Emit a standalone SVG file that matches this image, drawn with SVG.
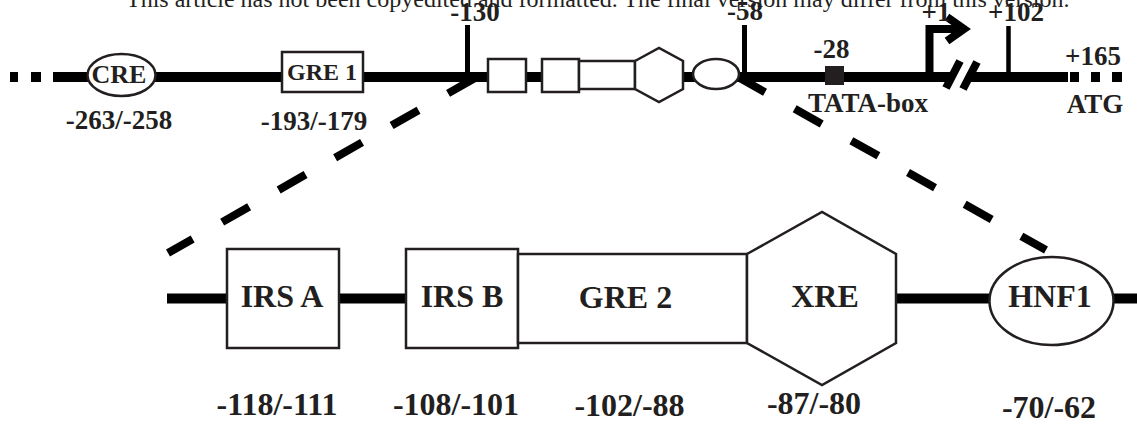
<svg xmlns="http://www.w3.org/2000/svg" width="1137" height="427" viewBox="0 0 1137 427">
<style>
text{font-family:"Liberation Serif","Times New Roman",serif;fill:#231f20;text-anchor:middle}
.b{font-weight:bold}
.t{font-size:27px}
.L{font-size:32px}
.box{fill:#fff;stroke:#231f20;stroke-width:2.5}
.tick{stroke:#000;fill:none}
.dash{stroke:#000;stroke-width:8;stroke-dasharray:31 34;fill:none}
</style>
<rect width="1137" height="427" fill="#fff"/>
<text x="126" y="7" style="font-size:24px;text-anchor:start">This article has not been copyedited and formatted. The final version may differ from this version.</text>

<g id="connectors">
  <!-- top DNA line -->
  <rect x="10" y="72" width="8" height="10" fill="#000"/>
  <rect x="31" y="72" width="10" height="10" fill="#000"/>
  <line x1="53" y1="77" x2="1068" y2="77" stroke="#000" stroke-width="10"/>
  <rect x="1070" y="72" width="9" height="10" fill="#000"/>
  <rect x="1091" y="72" width="9" height="10" fill="#000"/>
  <rect x="1112" y="72" width="10" height="10" fill="#000"/>
  <!-- break mark -->
  <line x1="954.5" y1="88.5" x2="968" y2="61.5" stroke="#fff" stroke-width="9"/>
  <line x1="946" y1="88" x2="960" y2="61" stroke="#000" stroke-width="8"/>
  <line x1="963" y1="89" x2="977" y2="62" stroke="#000" stroke-width="8"/>
  <!-- ticks -->
  <line class="tick" x1="467.5" y1="25" x2="467.5" y2="74" stroke-width="5"/>
  <line class="tick" x1="744.5" y1="25" x2="744.5" y2="74" stroke-width="5"/>
  <line class="tick" x1="1008.5" y1="26" x2="1008.5" y2="74" stroke-width="4.5"/>
  <!-- transcription start arrow -->
  <path d="M929.5,74 V29 H960" fill="none" stroke="#000" stroke-width="8"/>
  <path d="M947,17 L964,29 L947,41" fill="none" stroke="#000" stroke-width="8"/>
  <!-- zoom dashed lines -->
  <line class="dash" x1="475" y1="78" x2="168" y2="253"/>
  <line class="dash" x1="738" y1="77" x2="1046" y2="250"/>
  <!-- bottom line -->
  <line x1="167" y1="298.5" x2="1137" y2="298.5" stroke="#000" stroke-width="10"/>
</g>

<g id="top-CRE">
  <ellipse class="box" cx="121.5" cy="75" rx="34" ry="21"/>
  <text class="b" x="119" y="83" style="font-size:26px">CRE</text>
  <text class="b t" x="119" y="129">-263/-258</text>
</g>
<g id="top-GRE1">
  <rect class="box" x="282" y="52" width="81" height="40"/>
  <text class="b" x="322" y="80" style="font-size:24px">GRE 1</text>
  <text class="b t" x="314" y="130">-193/-179</text>
</g>
<g id="top-130"><text class="b t" x="475" y="21">-130</text></g>
<g id="top-IRSA"><rect class="box" x="488" y="59" width="38" height="33"/></g>
<g id="top-IRSB"><rect class="box" x="542" y="59" width="37" height="33"/></g>
<g id="top-GRE2"><rect class="box" x="579" y="61" width="56" height="28"/></g>
<g id="top-XRE"><polygon class="box" points="635,61 659,48 683,61 683,89 659,102 635,89"/></g>
<g id="top-HNF1"><ellipse class="box" cx="716" cy="74" rx="23" ry="15"/></g>
<g id="top-58"><text class="b t" x="745" y="20">-58</text></g>
<g id="top-TATA">
  <rect x="825" y="66" width="19" height="19" fill="#231f20"/>
  <text class="b t" x="831.5" y="58">-28</text>
  <text class="b t" x="868" y="112">TATA-box</text>
</g>
<g id="top-plus1"><text class="b t" x="936" y="21">+1</text></g>
<g id="top-plus102"><text class="b t" x="1016" y="21">+102</text></g>
<g id="top-ATG">
  <text class="b t" x="1093" y="65">+165</text>
  <text class="b t" x="1095" y="113">ATG</text>
</g>

<g id="IRSA">
  <rect class="box" x="227" y="249" width="112" height="99"/>
  <text class="b L" x="282" y="307">IRS A</text>
  <text class="b L" x="277" y="415">-118/-111</text>
</g>
<g id="IRSB">
  <rect class="box" x="406" y="249" width="112" height="99"/>
  <text class="b L" x="462" y="307">IRS B</text>
  <text class="b L" x="456" y="415">-108/-101</text>
</g>
<g id="GRE2">
  <rect class="box" x="518" y="254" width="229" height="89"/>
  <text class="b L" x="625.5" y="308">GRE 2</text>
  <text class="b L" x="629.5" y="416">-102/-88</text>
</g>
<g id="XRE">
  <polygon class="box" points="747,254 822,212 896,254 896,343 822,385 747,343"/>
  <text class="b L" x="825" y="307">XRE</text>
  <text class="b L" x="814" y="414">-87/-80</text>
</g>
<g id="HNF1">
  <ellipse class="box" cx="1051.5" cy="301" rx="62" ry="44"/>
  <text class="b L" x="1050" y="307">HNF1</text>
  <text class="b L" x="1049" y="418">-70/-62</text>
</g>
</svg>
